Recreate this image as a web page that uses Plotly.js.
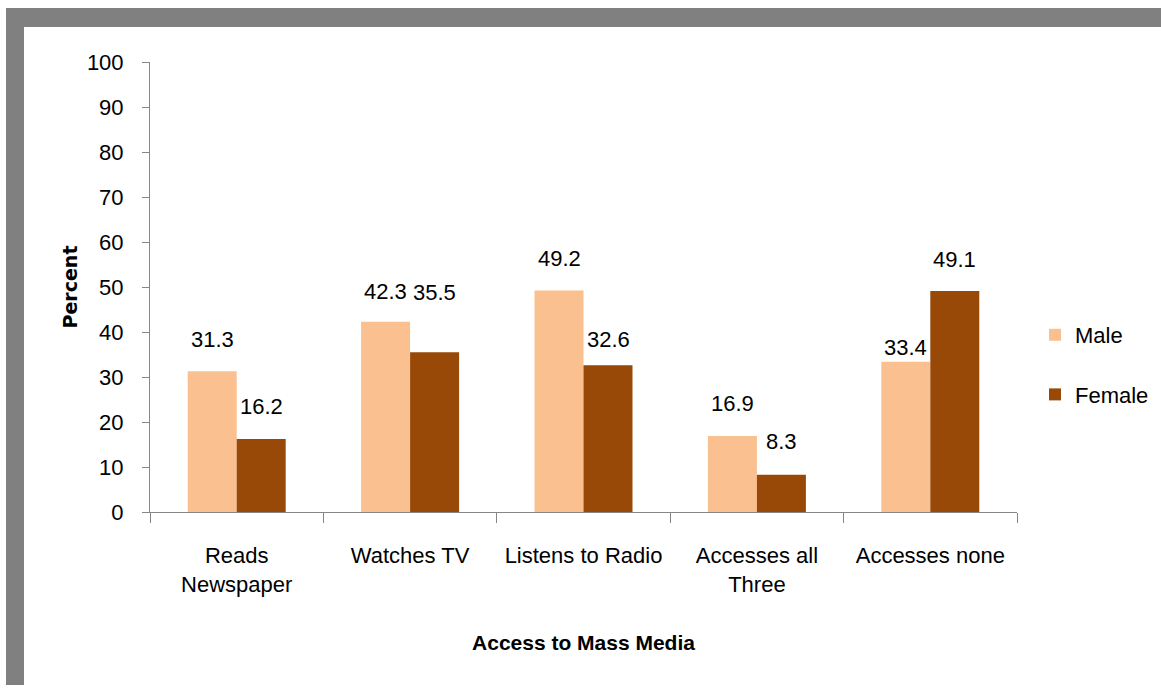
<!DOCTYPE html>
<html>
<head>
<meta charset="utf-8">
<script src="https://cdn.plot.ly/plotly-3.0.1.min.js"></script>
<style>
  html, body { margin: 0; padding: 0; background: #ffffff; overflow: hidden; }
  #chart { width: 1161px; height: 696px; }
</style>
</head>
<body>
<div id="chart"></div>
<script>
// ---- Data ----
const categories = ["Reads<br>Newspaper", "Watches TV", "Listens to Radio", "Accesses all<br>Three", "Accesses none"];
const maleValues = [31.3, 42.3, 49.2, 16.9, 33.4];
const femaleValues = [16.2, 35.5, 32.6, 8.3, 49.1];
const seriesNames = ["Male", "Female"];
const yTickValues = [0, 10, 20, 30, 40, 50, 60, 70, 80, 90, 100];

// ---- Styling ----
const FONT = '"Liberation Sans", Arial, sans-serif';
const FS = 22;
const MALE_COLOR = "#FAC090";
const FEMALE_COLOR = "#984807";
const AXIS_COLOR = "#868686";
// label pixel lift above each bar top (as placed in the original)
const maleLabelLift = [32, 30, 32, 32, 14];
const femaleLabelLift = [33, 60, 26, 33, 32];

const W = 1161, H = 696;
const M = { l: 150, r: 144, t: 62, b: 184 };
const plotW = W - M.l - M.r, plotH = H - M.t - M.b;
const px = x => (x - M.l) / plotW;
const py = y => (H - M.b - y) / plotH;

const traces = [
  {
    type: "bar", name: seriesNames[0], x: categories, y: maleValues,
    marker: { color: MALE_COLOR }, legendgroup: "m", hoverinfo: "x+y"
  },
  {
    type: "bar", name: seriesNames[1], x: categories, y: femaleValues,
    marker: { color: FEMALE_COLOR }, legendgroup: "f", hoverinfo: "x+y"
  }
];

const annotations = [];
const SHIFT = 24.5;
categories.forEach((c, i) => {
  annotations.push({
    x: c, y: maleValues[i], xref: "x", yref: "y", text: maleValues[i].toFixed(1),
    showarrow: false, xshift: -SHIFT, yshift: maleLabelLift[i], yanchor: "middle",
    font: { family: FONT, size: FS, color: "#000000" }
  });
  annotations.push({
    x: c, y: femaleValues[i], xref: "x", yref: "y", text: femaleValues[i].toFixed(1),
    showarrow: false, xshift: SHIFT, yshift: femaleLabelLift[i], yanchor: "middle",
    font: { family: FONT, size: FS, color: "#000000" }
  });
});

const frameColor = "#808080";
const shapes = [
  { type: "rect", xref: "paper", yref: "paper", x0: px(6), x1: px(1161), y0: py(27), y1: py(8),
    fillcolor: frameColor, line: { width: 0 } },
  { type: "rect", xref: "paper", yref: "paper", x0: px(6), x1: px(24), y0: py(685), y1: py(8),
    fillcolor: frameColor, line: { width: 0 } }
];

const layout = {
  width: W, height: H,
  margin: M,
  paper_bgcolor: "#ffffff",
  plot_bgcolor: "#ffffff",
  font: { family: FONT, size: FS, color: "#000000" },
  barmode: "group",
  bargap: 0.435,
  bargroupgap: 0,
  showlegend: true,
  legend: {
    xref: "container", yref: "container",
    x: 1035 / W, xanchor: "left", y: 1 - 314 / H, yanchor: "top",
    font: { family: FONT, size: FS, color: "#000000" },
    tracegroupgap: 28, bgcolor: "rgba(0,0,0,0)"
  },
  xaxis: {
    type: "category",
    showline: true, linecolor: AXIS_COLOR, linewidth: 1,
    ticks: "outside", tickson: "boundaries", ticklen: 10, tickcolor: AXIS_COLOR, tickwidth: 1,
    tickangle: 0,
    showgrid: false, zeroline: false,
    tickfont: { family: FONT, size: FS, color: "#000000" },
    ticklabelstandoff: 24,
    automargin: false,
    title: { text: "<b>Access to Mass Media</b>", font: { family: FONT, size: 21, color: "#000000" }, standoff: 39 }
  },
  yaxis: {
    range: [0, 100],
    tickvals: yTickValues,
    ticktext: yTickValues.map(String),
    showline: true, linecolor: AXIS_COLOR, linewidth: 1,
    ticks: "outside", ticklen: 7, tickcolor: AXIS_COLOR, tickwidth: 1,
    showgrid: false, zeroline: false,
    tickfont: { family: FONT, size: FS, color: "#000000" },
    ticklabelstandoff: 14,
    automargin: false,
    title: { text: "<b>Percent</b>", font: { family: '"DejaVu Sans", sans-serif', size: 19, color: "#000000" }, standoff: 4 }
  },
  annotations: annotations,
  shapes: shapes
};

Plotly.newPlot("chart", traces, layout, { displayModeBar: false, staticPlot: true });
</script>
</body>
</html>
